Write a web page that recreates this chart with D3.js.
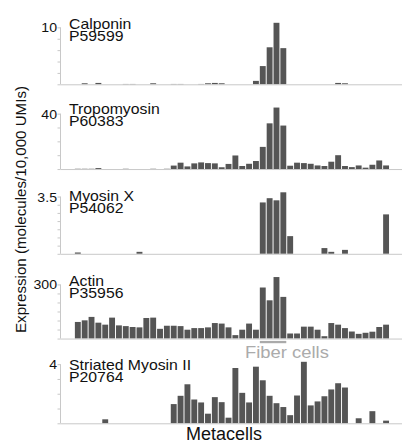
<!DOCTYPE html>
<html>
<head>
<meta charset="utf-8">
<script src="https://cdn.jsdelivr.net/npm/d3@7"></script>
<style>
  html, body { margin: 0; padding: 0; background: #fff; }
  svg { display: block; font-family: "Liberation Sans", Arial, Helvetica, sans-serif; }
</style>
</head>
<body>
<svg id="chart" width="412" height="444"></svg>
<script>
// Metacell index (x axis)
const metacells = d3.range(1, 47);

// Expression per metacell (molecules / 10,000 UMIs)
const calponin = [
  0, 0.18, 0, 0.24, 0, 0, 0, 0.06, 0.06, 0,
  0, 0.18, 0, 0, 0.06, 0.06, 0, 0, 0.06, 0.18,
  0.24, 0.18, 0, 0, 0, 0, 0.6, 3.2, 6.5, 10.8,
  6.35, 0, 0, 0, 0, 0, 0, 0, 0.24, 0.18,
  0, 0, 0, 0, 0, 0
];
const tropomyosin = [
  0.2, 0.2, 0.2, 0.7, 0, 0, 0, 0.2, 0, 0,
  0, 0.2, 0, 0.2, 2.5, 4.6, 1.9, 4.1, 4.8, 4.3,
  4.1, 1.3, 3.7, 9.8, 2.2, 3.8, 5.8, 16, 33, 44.4,
  31.4, 2.4, 4.6, 4.3, 3.8, 2.6, 2.2, 5.3, 10, 2.2,
  1.4, 2.6, 1, 3.1, 6.2, 2.6
];
const myosinX = [
  0.08, 0, 0, 0, 0, 0, 0, 0, 0, 0.12,
  0, 0, 0, 0, 0, 0, 0, 0, 0, 0,
  0, 0, 0, 0, 0, 0, 0, 3.14, 3.4, 3.27,
  3.76, 1.08, 0, 0, 0, 0, 0.35, 0.12, 0, 0.24,
  0, 0, 0, 0, 0, 2.41
];
const actin = [
  92, 101, 120, 88, 77, 116, 73, 69, 64, 62,
  114, 116, 54, 71, 71, 69, 49, 58, 58, 62,
  86, 83, 62, 19, 49, 83, 49, 283, 212, 341,
  231, 28, 28, 66, 66, 49, 13, 86, 77, 58,
  39, 26, 32, 38, 64, 77
];
const striatedMyosin = [
  0, 0, 0, 0, 0.27, 0, 0, 0, 0, 0,
  0, 0, 0, 0, 1.30, 1.86, 2.64, 1.61, 1.41, 0.65,
  1.77, 1.43, 0.38, 3.74, 2.06, 1.41, 3.83, 2.91, 1.86, 1.36,
  1.10, 0.55, 1.88, 4.16, 1.21, 1.48, 1.83, 2.29, 2.71, 2.42,
  0, 0.34, 0, 0.82, 0, 0.18
];

// Panel labels and y-axis tick settings
const proteinNames = ["Calponin", "Tropomyosin", "Myosin X", "Actin", "Striated Myosin II"];
const accessions = ["P59599", "P60383", "P54062", "P35956", "P20764"];
const tickSteps = [2, 10, 0.5, 50, 1];
const topTicks = [10, 40, 3.5, 300, 4];
const topTickLabels = ["10", "40", "3.5", "300", "4"];
const seriesList = [calponin, tropomyosin, myosinX, actin, striatedMyosin];

// Fiber-cell metacells
const fiberCells = [28, 29, 30, 31];
const fiberLabel = "Fiber cells";

const svg = d3.select("#chart");

// layout
const axisX = 60.5;
const firstBase = 84.3;
const panelStep = 84.75;
const panelHeight = 61.5;
const labelOffsets = [5.8, 6.0, 8.2, 8.6, 8.2];
const wide = 1.13; // horizontal stretch of the lettering

const x = d3.scaleBand()
  .domain(metacells)
  .range([74.4, 389.5])
  .paddingInner(0.14)
  .paddingOuter(0.07);

// text drawn at (tx, ty) with a slight horizontal stretch
function wideText(parent, tx, ty, str, size, fill, anchor) {
  return parent.append("text")
    .attr("transform", `translate(${tx},${ty}) scale(${wide},1)`)
    .attr("font-size", size)
    .attr("fill", fill)
    .attr("text-anchor", anchor || "start")
    .text(str);
}

seriesList.forEach((vals, i) => {
  const base = firstBase + i * panelStep;
  const y = d3.scaleLinear()
    .domain([0, d3.max(vals)])
    .range([base, base - panelHeight]);

  const g = svg.append("g");

  // bars
  g.selectAll("rect")
    .data(metacells.map((m, k) => ({ m, v: vals[k] })).filter(d => d.v > 0))
    .join("rect")
    .attr("x", d => x(d.m))
    .attr("width", x.bandwidth())
    .attr("y", d => y(d.v))
    .attr("height", d => base - y(d.v))
    .attr("fill", "#555555");

  // baseline
  g.append("line")
    .attr("x1", axisX).attr("x2", 402)
    .attr("y1", base + 0.5).attr("y2", base + 0.5)
    .attr("stroke", "#c8c8c8").attr("stroke-width", 1);

  // y axis: ticks at regular steps, only the top one labelled
  const top = topTicks[i];
  const ticks = d3.range(0, top + tickSteps[i] / 2, tickSteps[i]);
  const axis = d3.axisLeft(y)
    .tickValues(ticks)
    .tickSize(3)
    .tickSizeOuter(0)
    .tickFormat(() => "");
  const ag = g.append("g")
    .attr("transform", `translate(${axisX},0)`)
    .call(axis);
  ag.select(".domain").remove();
  ag.append("line")
    .attr("x1", 0).attr("x2", 0)
    .attr("y1", y(0)).attr("y2", y(top))
    .attr("stroke", "#c8c8c8");
  ag.selectAll(".tick line").attr("stroke", "#c8c8c8");
  wideText(g, axisX - 3.5, y(top) + 5, topTickLabels[i], 12.5, "#111", "end");

  // panel label
  const labelTop = base - panelHeight + labelOffsets[i];
  wideText(g, 69, labelTop, proteinNames[i], 14, "#111");
  wideText(g, 69, labelTop + 12.4, accessions[i], 14, "#111");

  // fiber cells marker under the Actin panel
  if (i === 3) {
    const x0 = x(fiberCells[0]);
    const x1 = x(fiberCells[fiberCells.length - 1]) + x.bandwidth();
    g.append("line")
      .attr("x1", x0).attr("x2", x1)
      .attr("y1", base + 3.5).attr("y2", base + 3.5)
      .attr("stroke", "#aaaaaa").attr("stroke-width", 2.3);
    wideText(g, 245, base + 19.5, fiberLabel, 16.3, "#ababab");
  }
});

// axis titles
svg.append("text")
  .attr("transform", "translate(26,209.5) rotate(-90)")
  .attr("text-anchor", "middle")
  .attr("font-size", 14.5).attr("fill", "#111")
  .attr("textLength", 247)
  .attr("lengthAdjust", "spacingAndGlyphs")
  .text("Expression (molecules/10,000 UMIs)");

svg.append("text")
  .attr("x", 224).attr("y", 440)
  .attr("text-anchor", "middle")
  .attr("font-size", 18).attr("fill", "#111")
  .text("Metacells");
</script>
</body>
</html>
